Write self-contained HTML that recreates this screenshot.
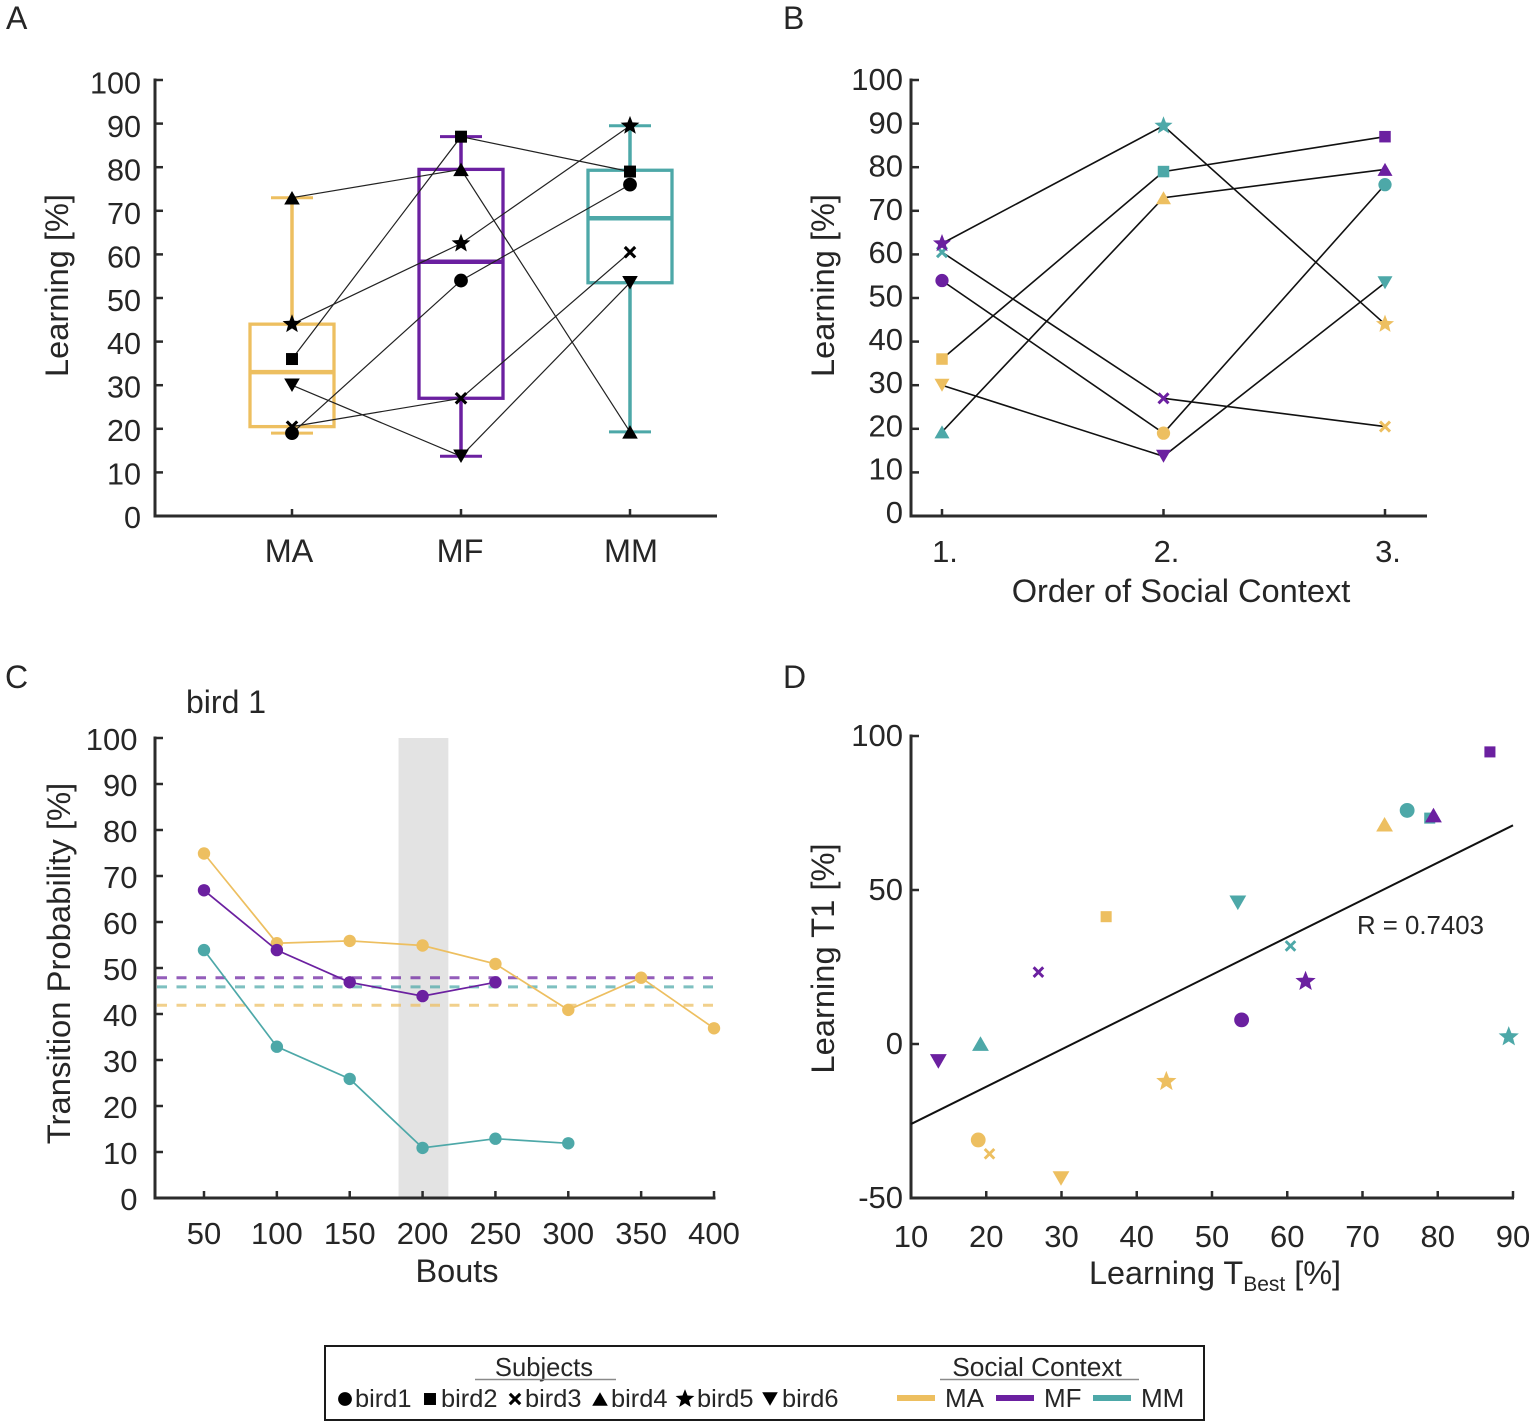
<!DOCTYPE html>
<html lang="en">
<head>
<meta charset="utf-8">
<title>Learning by social context</title>
<style>
html,body{margin:0;padding:0;background:#fff}
svg{display:block}
text{font-family:"Liberation Sans",Arial,sans-serif;fill:#262626}
</style>
</head>
<body>
<svg id="fig" xmlns="http://www.w3.org/2000/svg" width="1535" height="1427" viewBox="0 0 1535 1427">
  <rect x="0" y="0" width="1535" height="1427" fill="#ffffff"/>
  <text x="6" y="29" font-size="32">A</text>
  <text x="783" y="29" font-size="32">B</text>
  <text x="5" y="688" font-size="32">C</text>
  <text x="783" y="688" font-size="32">D</text>
  <text transform="translate(68,285.5) rotate(-90)" text-anchor="middle" font-size="32.6">Learning [%]</text>
  <text transform="translate(834,285.5) rotate(-90)" text-anchor="middle" font-size="32.6">Learning [%]</text>
  <text x="1181" y="602" text-anchor="middle" font-size="32.6">Order of Social Context</text>
  <text transform="translate(70,963.5) rotate(-90)" text-anchor="middle" font-size="32.8">Transition Probability [%]</text>
  <text x="457" y="1282" text-anchor="middle" font-size="32.5">Bouts</text>
  <text x="186" y="713" font-size="32">bird 1</text>
  <text transform="translate(834,958.5) rotate(-90)" text-anchor="middle" font-size="32.7">Learning T1 [%]</text>
  <text x="1215" y="1284" text-anchor="middle" font-size="32.4">Learning T<tspan font-size="21" dy="7">Best</tspan><tspan dy="-7"> [%]</tspan></text>
  <text x="1357" y="934" font-size="25.8">R = 0.7403</text>
  <rect x="325" y="1346" width="879" height="74" fill="#ffffff" stroke="#1a1a1a" stroke-width="2"/>
  <text x="544" y="1376" text-anchor="middle" font-size="25.6">Subjects</text>
  <line x1="475" y1="1379.5" x2="616" y2="1379.5" stroke="#8a8a8a" stroke-width="1.5"/>
  <text x="1037" y="1376" text-anchor="middle" font-size="26.3">Social Context</text>
  <line x1="940" y1="1379.5" x2="1139" y2="1379.5" stroke="#8a8a8a" stroke-width="1.5"/>
  <text x="355" y="1407" font-size="25.4">bird1</text>
  <text x="441" y="1407" font-size="25.4">bird2</text>
  <text x="525" y="1407" font-size="25.4">bird3</text>
  <text x="611" y="1407" font-size="25.4">bird4</text>
  <text x="697" y="1407" font-size="25.4">bird5</text>
  <text x="782" y="1407" font-size="25.4">bird6</text>
  <rect x="897" y="1395" width="38" height="6" fill="#EDBF60"/>
  <text x="945" y="1407" font-size="26">MA</text>
  <rect x="996" y="1395" width="38" height="6" fill="#6B20A0"/>
  <text x="1044" y="1407" font-size="26">MF</text>
  <rect x="1093" y="1395" width="38" height="6" fill="#4DA8A8"/>
  <text x="1141" y="1407" font-size="26">MM</text>
</svg>
<script>
// ---- data ----
const contexts = ['MA', 'MF', 'MM'];
const birds = ['bird1', 'bird2', 'bird3', 'bird4', 'bird5', 'bird6'];
const birdShapes = ['circle', 'square', 'cross', 'triUp', 'star', 'triDown'];
const learningMA = [19, 36, 20.5, 73, 44, 30];
const learningMF = [54, 87, 27, 79.5, 62.5, 13.7];
const learningMM = [76, 79, 60.5, 19.3, 89.5, 53.5];
const boxLow = [19, 13.7, 19.3];
const boxQ1 = [20.5, 27, 53.5];
const boxMedian = [33, 58.3, 68.3];
const boxQ3 = [44, 79.5, 79.3];
const boxHigh = [73, 87, 89.5];
const orderBird1 = ['MF', 'MA', 'MM'];
const orderBird2 = ['MA', 'MM', 'MF'];
const orderBird3 = ['MM', 'MF', 'MA'];
const orderBird4 = ['MM', 'MA', 'MF'];
const orderBird5 = ['MF', 'MM', 'MA'];
const orderBird6 = ['MA', 'MF', 'MM'];
const orderLabels = ['1.', '2.', '3.'];
const learningTicks = [0, 10, 20, 30, 40, 50, 60, 70, 80, 90, 100];
const boutTicks = [50, 100, 150, 200, 250, 300, 350, 400];
const transitionMA = [75, 55.5, 56, 55, 51, 41, 48, 37];
const transitionMF = [67, 54, 47, 44, 47];
const transitionMM = [54, 33, 26, 11, 13, 12];
const chanceMA = 42;
const chanceMF = 48;
const chanceMM = 46;
const bestWindow = [183.5, 217];
const t1MA = [-31, 41.5, -35.5, 71.5, -12, -43.5];
const t1MF = [8, 95, 23.5, 74.5, 20.5, -5.5];
const t1MM = [76, 73.5, 32, 0.3, 2.5, 46];
const fitX = [10, 90];
const fitY = [-26, 71];
const tbestTicks = [10, 20, 30, 40, 50, 60, 70, 80, 90];
const t1Ticks = [-50, 0, 50, 100];

const colors = {MA: '#EDBF60', MF: '#6B20A0', MM: '#4DA8A8'};
const learningBy = {MA: learningMA, MF: learningMF, MM: learningMM};
const t1By = {MA: t1MA, MF: t1MF, MM: t1MM};
const orders = [orderBird1, orderBird2, orderBird3, orderBird4, orderBird5, orderBird6];
const svg = document.getElementById('fig');
const NS = 'http://www.w3.org/2000/svg';

function make(tag, name, props, parent) {
  const el = document.createElementNS(NS, tag);
  
  
  for (const k in props) el.setAttribute(k, props[k]);
  (parent || svg).appendChild(el);
  return el;
}
function line(name, x1, y1, x2, y2, stroke, w, extra) {
  return make('line', name, Object.assign({x1, y1, x2, y2, stroke, 'stroke-width': w}, extra || {}));
}
function label(name, x, y, str, size, anchor) {
  const t = make('text', name, {x, y, 'font-size': size, 'text-anchor': anchor || 'middle'});
  t.textContent = str;
  return t;
}
function marker(name, shape, x, y, s, fill) {
  if (shape === 'circle') return make('circle', name, {cx: x, cy: y, r: s * 0.53, fill});
  if (shape === 'square') return make('rect', name, {x: x - s * 0.46, y: y - s * 0.46, width: s * 0.92, height: s * 0.92, fill});
  if (shape === 'cross') {
    const d = s * 0.4;
    return make('path', name, {d: `M${x - d} ${y - d}L${x + d} ${y + d}M${x - d} ${y + d}L${x + d} ${y - d}`, stroke: fill, 'stroke-width': s * 0.24, fill: 'none'});
  }
  if (shape === 'triUp') {
    const w = s * 0.6, h = s * 0.52;
    return make('polygon', name, {points: `${x},${y - h} ${x + w},${y + h} ${x - w},${y + h}`, fill});
  }
  if (shape === 'triDown') {
    const w = s * 0.6, h = s * 0.52;
    return make('polygon', name, {points: `${x},${y + h} ${x + w},${y - h} ${x - w},${y - h}`, fill});
  }
  const R = s * 0.76, r = R * 0.43, pts = [];
  for (let i = 0; i < 10; i++) {
    const a = -Math.PI / 2 + i * Math.PI / 5, q = i % 2 ? r : R;
    pts.push((x + q * Math.cos(a)).toFixed(2) + ',' + (y + q * Math.sin(a)).toFixed(2));
  }
  return make('polygon', name, {points: pts.join(' '), fill});
}
function scale(d0, d1, r0, r1) {
  return v => r0 + (v - d0) * (r1 - r0) / (d1 - d0);
}
const AXC = '#2b2b2b';

// ---- panel A ----
const ax = scale(0, 2, 292, 630), ay = scale(0, 100, 516, 80);
const ayLab = scale(0, 100, 528, 93.5);
const axLab = scale(0, 2, 289, 631);
line('panel-a-y-axis', 155, 78.5, 155, 517.5, AXC, 3);
line('panel-a-x-axis', 153.5, 516, 717, 516, AXC, 3);
learningTicks.forEach(v => {
  line('panel-a-y-tick', 155, ay(v), 163, ay(v), AXC, 2.5);
  label('panel-a-y-tick-label', 141, ayLab(v), v, 30.6, 'end');
});
contexts.forEach((c, i) => {
  line('panel-a-x-tick', ax(i), 516, ax(i), 509, AXC, 2.5);
  label('panel-a-x-tick-label', axLab(i), 562, c, 32.4);
  const col = colors[c], X = ax(i), hw = 42, cap = 21;
  line('whisker-' + c + '-upper', X, ay(boxQ3[i]), X, ay(boxHigh[i]), col, 3.5);
  line('whisker-' + c + '-lower', X, ay(boxQ1[i]), X, ay(boxLow[i]), col, 3.5);
  line('cap-' + c + '-upper', X - cap, ay(boxHigh[i]), X + cap, ay(boxHigh[i]), col, 3);
  line('cap-' + c + '-lower', X - cap, ay(boxLow[i]), X + cap, ay(boxLow[i]), col, 3);
  make('rect', 'box-' + c, {x: X - hw, y: ay(boxQ3[i]), width: hw * 2, height: ay(boxQ1[i]) - ay(boxQ3[i]), fill: 'none', stroke: col, 'stroke-width': 3.3});
  line('median-' + c, X - hw, ay(boxMedian[i]), X + hw, ay(boxMedian[i]), col, 4.5);
});
birds.forEach((b, k) => {
  const pts = contexts.map((c, i) => ax(i) + ',' + ay(learningBy[c][k]).toFixed(1)).join(' ');
  make('polyline', 'panel-a-line-' + b, {points: pts, fill: 'none', stroke: '#222', 'stroke-width': 1.2});
});
birds.forEach((b, k) => {
  contexts.forEach((c, i) => {
    marker('panel-a-point-' + b + '-' + c, birdShapes[k], ax(i), ay(learningBy[c][k]), 13, '#000');
  });
});

// ---- panel B ----
const bx = scale(0, 2, 942, 1385), by = scale(0, 100, 516, 80);
const byLab = scale(0, 100, 523, 90);
line('panel-b-y-axis', 911, 78.5, 911, 517.5, AXC, 3);
line('panel-b-x-axis', 909.5, 516, 1427, 516, AXC, 3);
learningTicks.forEach(v => {
  line('panel-b-y-tick', 911, by(v), 919, by(v), AXC, 2.5);
  label('panel-b-y-tick-label', 903, byLab(v), v, 31, 'end');
});
orderLabels.forEach((t, i) => {
  line('panel-b-x-tick', bx(i), 516, bx(i), 509, AXC, 2.5);
  label('panel-b-x-tick-label', bx(i) + 3, 562, t, 31);
});
birds.forEach((b, k) => {
  const pts = orders[k].map((c, i) => bx(i) + ',' + by(learningBy[c][k]).toFixed(1)).join(' ');
  make('polyline', 'panel-b-line-' + b, {points: pts, fill: 'none', stroke: '#111', 'stroke-width': 1.6});
});
birds.forEach((b, k) => {
  orders[k].forEach((c, i) => {
    marker('panel-b-point-' + b + '-' + c, birdShapes[k], bx(i), by(learningBy[c][k]), 12.5, colors[c]);
  });
});

// ---- panel C ----
const cx = scale(50, 400, 204, 714), cy = scale(0, 100, 1198, 738);
const cyLab = scale(0, 100, 1210, 750);
make('rect', 'best-window-band', {x: cx(bestWindow[0]), y: cy(100), width: cx(bestWindow[1]) - cx(bestWindow[0]) + 1, height: cy(0) - cy(100), fill: '#E3E3E3'});
line('panel-c-y-axis', 155, 736.5, 155, 1199.5, AXC, 3);
line('panel-c-x-axis', 153.5, 1198, 715.5, 1198, AXC, 3);
learningTicks.forEach(v => {
  line('panel-c-y-tick', 155, cy(v), 163, cy(v), AXC, 2.5);
  label('panel-c-y-tick-label', 137.5, cyLab(v), v, 31, 'end');
});
boutTicks.forEach(v => {
  line('panel-c-x-tick', cx(v), 1198, cx(v), 1191, AXC, 2.5);
  label('panel-c-x-tick-label', cx(v), 1244, v, 31);
});
[['MF', chanceMF], ['MM', chanceMM], ['MA', chanceMA]].forEach(d => {
  line('chance-line-' + d[0], 157, cy(d[1]) + 0.5, 713, cy(d[1]) + 0.5, colors[d[0]], 3, {'stroke-dasharray': '10 9.5', opacity: 0.72});
});
[['MA', transitionMA], ['MM', transitionMM], ['MF', transitionMF]].forEach(d => {
  const pts = d[1].map((v, i) => cx(boutTicks[i]).toFixed(1) + ',' + (cy(v) + 0.5).toFixed(1)).join(' ');
  make('polyline', 'transition-line-' + d[0], {points: pts, fill: 'none', stroke: colors[d[0]], 'stroke-width': 1.7});
  d[1].forEach((v, i) => {
    make('circle', 'transition-point-' + d[0], {cx: cx(boutTicks[i]), cy: cy(v) + 0.5, r: 6.2, fill: colors[d[0]]});
  });
});

// ---- panel D ----
const dx = scale(10, 90, 911, 1513), dy = scale(-50, 100, 1198, 736);
line('panel-d-y-axis', 911, 734.5, 911, 1199.5, AXC, 3);
line('panel-d-x-axis', 909.5, 1198, 1514, 1198, AXC, 3);
t1Ticks.forEach(v => {
  line('panel-d-y-tick', 911, dy(v), 919, dy(v), AXC, 2.5);
  label('panel-d-y-tick-label', 903, dy(v) + 10, v, 31, 'end');
});
tbestTicks.forEach(v => {
  line('panel-d-x-tick', dx(v), 1198, dx(v), 1191, AXC, 2.5);
  label('panel-d-x-tick-label', dx(v), 1247, v, 31);
});
line('regression-line', dx(fitX[0]), dy(fitY[0]), dx(fitX[1]), dy(fitY[1]), '#111', 2);
['MM', 'MA', 'MF'].forEach(c => {
  birds.forEach((b, k) => {
    const shape = birdShapes[k];
    const size = (shape === 'square' || shape === 'cross') ? 12 : 14;
    marker('panel-d-point-' + b + '-' + c, shape, dx(learningBy[c][k]) - 0.5, dy(t1By[c][k]) + 0.5, size, colors[c]);
  });
});

// ---- legend markers ----
const legendMarkX = scale(0, 5, 345, 770);
birds.forEach((b, k) => {
  marker('legend-marker-' + b, birdShapes[k], legendMarkX(k), 1399, 13, '#000');
});
</script>
</body>
</html>
